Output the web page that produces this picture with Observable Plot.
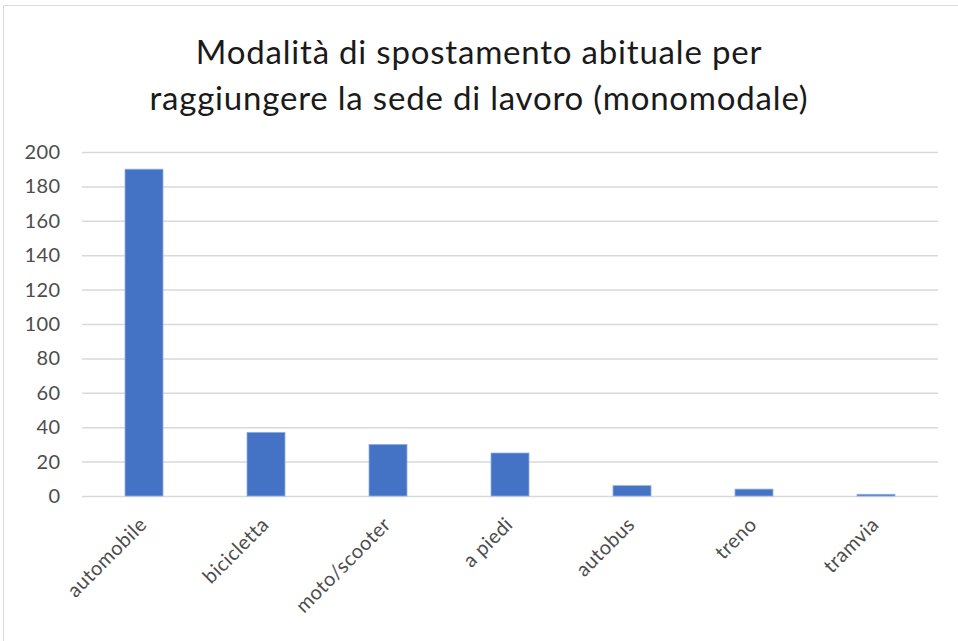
<!DOCTYPE html>
<html>
<head>
<meta charset="utf-8">
<script src="https://cdn.jsdelivr.net/npm/d3@7"></script>
<script src="https://cdn.jsdelivr.net/npm/@observablehq/plot@0.6"></script>
<style>
  html, body { margin: 0; padding: 0; background: #fff; }
  #frame {
    position: absolute; left: 3px; top: 5px; width: 970px; height: 660px;
    border: 1.5px solid #d9d9d9; box-sizing: border-box;
  }
  #title {
    position: absolute; left: 0; top: 28px; width: 958px;
    text-align: center; font-family: Lato, sans-serif;
    font-size: 33px; letter-spacing: 0.8px; line-height: 46px; color: #1a1a1a;
  }
  #chart { position: absolute; left: 0; top: 130px; }
</style>
</head>
<body>
<div id="frame"></div>
<div id="title">Modalità di spostamento abituale per<br>raggiungere la sede di lavoro (monomodale)</div>
<div id="chart"></div>
<script>
const categories = ["automobile", "bicicletta", "moto/scooter", "a piedi", "autobus", "treno", "tramvia"];
const values = [190, 37, 30, 25, 6, 4, 1];
const yTicks = [0, 20, 40, 60, 80, 100, 120, 140, 160, 180, 200];

const data = categories.map((c, i) => ({category: c, value: values[i]}));

const chart = Plot.plot({
  width: 958,
  height: 511,
  marginTop: 22,
  marginBottom: 145,
  marginLeft: 82,
  marginRight: 20,
  style: {fontFamily: "Lato, sans-serif", fontSize: "20px", color: "#4d4d4d", background: "transparent", letterSpacing: "0.4px"},
  x: {domain: categories, paddingInner: 0.69, paddingOuter: 0.345, label: null},
  y: {domain: [0, 200], label: null},
  marks: [
    Plot.gridY(yTicks, {stroke: "#d9d9d9", strokeOpacity: 1, strokeWidth: 1.5}),
    Plot.barY(data, {x: "category", y: "value", fill: "#4472c4", stroke: "#8fb0e6", strokeWidth: 0.8}),
    Plot.axisY(yTicks, {tickSize: 0, tickPadding: 22, fontSize: 20, fill: "#4d4d4d", label: null}),
    Plot.axisX({tickSize: 0, tickRotate: -45, textAnchor: "end", fontSize: 20, fill: "#4d4d4d", label: null, dx: -1, dy: 13})
  ]
});
document.getElementById("chart").appendChild(chart);
</script>
</body>
</html>
